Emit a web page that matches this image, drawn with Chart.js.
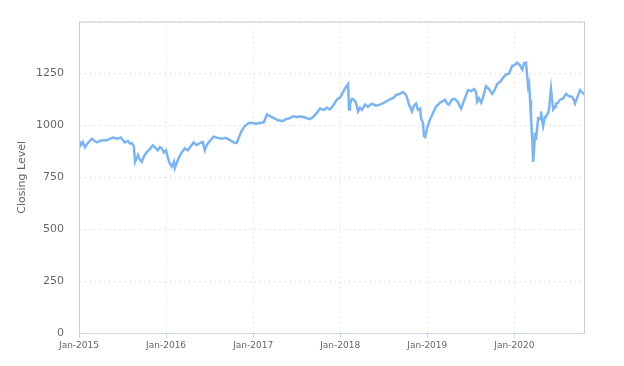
<!DOCTYPE html>
<html>
<head>
<meta charset="utf-8">
<script src="https://cdn.jsdelivr.net/npm/chart.js@4"></script>
<style>
  body { margin: 0; background: #fff; }
  #wrap { width: 624px; height: 366px; }
</style>
</head>
<body>
<div id="wrap"><canvas id="myChart" width="624" height="366"></canvas></div>
<script>
// closing level
const dates = [
  "2015-01-02","2015-01-09","2015-01-17","2015-01-26","2015-02-07","2015-02-24","2015-03-08","2015-03-17","2015-03-29","2015-04-15",
  "2015-04-27","2015-05-10","2015-05-23","2015-06-04","2015-06-13","2015-06-25","2015-07-04","2015-07-12","2015-07-25","2015-08-02",
  "2015-08-10","2015-08-19","2015-08-24","2015-09-01","2015-09-05","2015-09-13","2015-09-21","2015-09-30","2015-10-12","2015-10-25",
  "2015-11-06","2015-11-19","2015-11-27","2015-12-06","2015-12-14","2015-12-23",
  "2016-01-01","2016-01-09","2016-01-17","2016-01-25","2016-02-03","2016-02-07","2016-02-15","2016-02-24","2016-03-07","2016-03-20",
  "2016-04-01","2016-04-14","2016-04-26","2016-05-09","2016-05-22","2016-06-03","2016-06-12","2016-06-20","2016-07-03","2016-07-19",
  "2016-08-05","2016-08-22","2016-09-08","2016-09-24","2016-10-11","2016-10-24","2016-11-05","2016-11-14","2016-11-26","2016-12-13",
  "2017-01-01","2017-01-13","2017-01-29","2017-02-15","2017-02-28","2017-03-12","2017-03-29","2017-04-15","2017-05-06","2017-05-18",
  "2017-06-04","2017-06-17","2017-07-04","2017-07-16","2017-08-06","2017-08-27","2017-09-09","2017-09-25","2017-10-08","2017-10-25",
  "2017-11-06","2017-11-19","2017-12-02","2017-12-18",
  "2018-01-01","2018-01-13","2018-01-25","2018-02-03","2018-02-07","2018-02-11","2018-02-19","2018-02-28","2018-03-08","2018-03-17",
  "2018-03-25","2018-04-02","2018-04-15","2018-04-27","2018-05-14","2018-05-31","2018-06-17","2018-07-04","2018-07-20","2018-08-02",
  "2018-08-15","2018-08-23","2018-09-04","2018-09-21","2018-10-04","2018-10-12","2018-10-16","2018-10-25","2018-10-29","2018-11-06",
  "2018-11-15","2018-11-23","2018-12-02","2018-12-06","2018-12-14","2018-12-18","2018-12-23",
  "2019-01-01","2019-01-13","2019-01-25","2019-02-07","2019-02-24","2019-03-17","2019-03-25","2019-04-02","2019-04-15","2019-04-27",
  "2019-05-10","2019-05-23","2019-06-04","2019-06-21","2019-07-04","2019-07-16","2019-07-25","2019-07-29","2019-08-06","2019-08-15",
  "2019-08-23","2019-09-04","2019-09-17","2019-09-30","2019-10-08","2019-10-21","2019-11-02","2019-11-15","2019-11-27","2019-12-10",
  "2019-12-23",
  "2020-01-01","2020-01-13","2020-01-25","2020-02-03","2020-02-11","2020-02-19","2020-02-24","2020-02-28","2020-03-03","2020-03-07",
  "2020-03-11","2020-03-16","2020-03-20","2020-03-24","2020-03-28","2020-04-01","2020-04-10","2020-04-18","2020-04-22","2020-05-01",
  "2020-05-09","2020-05-13","2020-05-22","2020-05-26","2020-06-03","2020-06-08","2020-06-12","2020-06-20","2020-06-24","2020-07-03",
  "2020-07-11","2020-07-24","2020-08-05","2020-08-18","2020-08-30","2020-09-08","2020-09-12","2020-09-20","2020-10-03","2020-10-11",
  "2020-10-20","2020-10-24"
];
const closes = [
  927,905,920,894,915,936,925,918,925,930,
  927,935,941,938,936,942,930,918,925,913,
  915,900,824,845,857,835,824,850,871,885,
  904,890,880,895,889,870,
  880,843,815,801,825,795,820,845,870,889,
  880,900,918,905,915,920,880,905,925,946,
  940,936,940,930,918,915,950,974,995,1011,
  1011,1008,1012,1015,1053,1045,1035,1025,1021,1030,
  1035,1044,1040,1044,1038,1030,1040,1060,1081,1075,
  1085,1077,1095,1124,
  1135,1160,1185,1199,1077,1100,1128,1124,1110,1067,
  1085,1075,1100,1090,1105,1095,1100,1110,1120,1128,
  1135,1147,1150,1161,1147,1120,1100,1080,1067,1095,
  1105,1075,1081,1035,1010,950,945,
  990,1030,1060,1091,1110,1124,1105,1100,1125,1128,
  1110,1081,1120,1170,1165,1175,1160,1114,1130,1110,
  1135,1189,1175,1152,1165,1199,1210,1230,1245,1250,
  1287,
  1290,1302,1290,1269,1300,1302,1240,1185,1200,1124,
  1040,936,824,880,964,930,1035,1030,1067,997,
  1040,1044,1060,1081,1175,1120,1077,1090,1105,1110,
  1124,1130,1152,1140,1138,1120,1105,1130,1170,1160,
  1152,1145
];
const yTicks = [0, 250, 500, 750, 1000, 1250];
const xTickYears = [2015, 2016, 2017, 2018, 2019, 2020];

// date string -> fractional year
function toYear(s) {
  const d = new Date(s + "T00:00:00Z");
  const y = d.getUTCFullYear();
  const start = Date.UTC(y, 0, 1), end = Date.UTC(y + 1, 0, 1);
  return y + (d.getTime() - start) / (end - start);
}

const points = dates.map((d, i) => ({ x: toYear(d), y: closes[i] }));

const frame = {
  id: "frame",
  afterDraw(chart) {
    const a = chart.chartArea, c = chart.ctx;
    c.save();
    c.lineWidth = 1;
    c.strokeStyle = "#cccccc";
    c.beginPath();
    c.moveTo(a.left + 0.5, a.bottom);
    c.lineTo(a.left + 0.5, a.top + 0.5);
    c.lineTo(a.right - 0.5, a.top + 0.5);
    c.lineTo(a.right - 0.5, a.bottom);
    c.stroke();
    c.strokeStyle = "#ccd6eb";
    c.beginPath();
    c.moveTo(a.left, a.bottom + 0.5);
    c.lineTo(a.right, a.bottom + 0.5);
    c.stroke();
    c.restore();
  }
};

new Chart(document.getElementById("myChart"), {
  type: "line",
  data: {
    datasets: [{
      label: "Closing Level",
      data: points,
      borderColor: "#7cb5ec",
      borderWidth: 2.5,
      pointRadius: 0,
      tension: 0,
      fill: false
    }]
  },
  options: {
    responsive: false,
    animation: false,
    layout: { padding: { left: 0, right: 39, top: 12, bottom: 0 } },
    plugins: { legend: { display: false }, tooltip: { enabled: false } },
    scales: {
      x: {
        type: "linear",
        min: 2015,
        max: toYear(dates[dates.length - 1]),
        afterBuildTicks: s => { s.ticks = xTickYears.map(v => ({ value: v })); },
        afterFit: s => { s.height = 33; },
        grid: { color: "#e6e6e6", drawTicks: true, tickLength: 5, tickColor: "#ccd6eb" },
        border: { display: false, dash: [2, 3] },
        ticks: {
          autoSkip: false,
          maxRotation: 0,
          color: "#666666",
          padding: 2,
          font: { family: "DejaVu Sans", size: 9 },
          callback: v => "Jan-" + v
        }
      },
      y: {
        min: 0,
        max: 1500,
        afterBuildTicks: s => { s.ticks = yTicks.concat([1500]).map(v => ({ value: v })); },
        afterFit: s => { s.width = 79; },
        grid: { color: "#e6e6e6", drawTicks: false },
        border: { display: false, dash: [2, 3] },
        title: {
          display: true,
          text: "Closing Level",
          color: "#666666",
          font: { family: "DejaVu Sans", size: 11 },
          padding: { top: 16, bottom: 0 }
        },
        ticks: {
          color: "#666666",
          padding: 15,
          font: { family: "DejaVu Sans", size: 11 },
          callback: v => v === 1500 ? "" : v
        }
      }
    }
  },
  plugins: [frame]
});
</script>
</body>
</html>
